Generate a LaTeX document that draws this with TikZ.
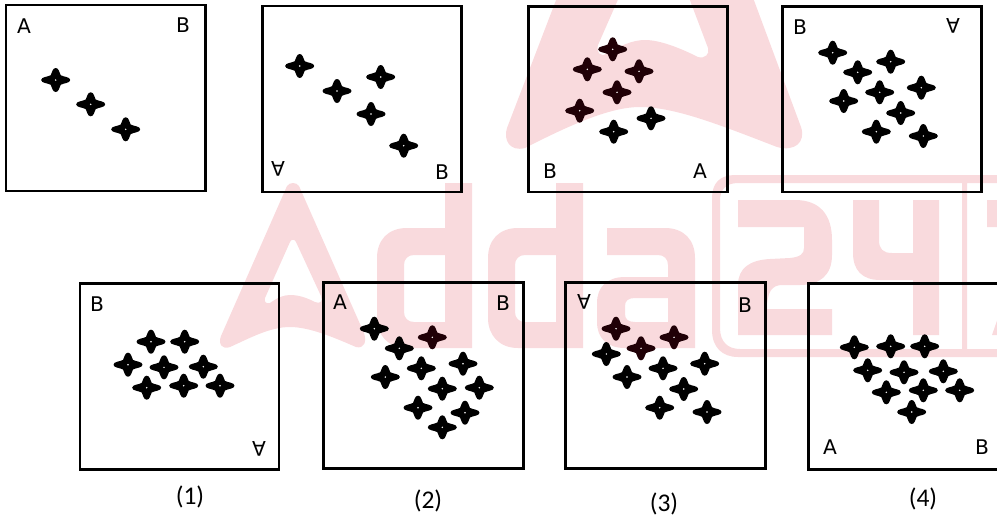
\documentclass[tikz,border=0pt]{standalone}
\usepackage{fontspec}
\setsansfont{DejaVu Sans}
\newfontfamily\capfont{Carlito}
\definecolor{wmark}{HTML}{F9DADD}
\definecolor{tinted}{HTML}{200006}
\tikzset{
    sparkle/.pic={
        \fill (14.5,0) .. controls (14.5,-3.2) and (8,-3) .. (5,-4.8) .. controls (3.5,-7.5) and (3.2,-12) .. (0,-12)
            .. controls (-3.2,-12) and (-3.5,-7.5) .. (-5,-4.8) .. controls (-8,-3) and (-14.5,-3.2) .. (-14.5,0)
            .. controls (-14.5,3.2) and (-8,3) .. (-5,4.8) .. controls (-3.5,7.5) and (-3.2,12) .. (0,12)
            .. controls (3.2,12) and (3.5,7.5) .. (5,4.8) .. controls (8,3) and (14.5,3.2) .. (14.5,0) -- cycle;
        \fill[white] (0,0) circle (0.8);
    }
}

\begin{document}
\begin{tikzpicture}[x=0.02cm, y=-0.02cm]
    \tikzstyle{every node}=[inner sep=0pt, font=\sffamily\fontsize{11.5}{13}\selectfont, text=black]
    \tikzstyle{flipped}=[transform shape, yscale=-1]
    \tikzstyle{caption}=[font=\capfont\fontsize{14.5}{16}\selectfont]
    \tikzstyle{panel}=[draw=black, line width=1.7pt]
    \tikzstyle{logo}=[fill=wmark, even odd rule]

    \useasboundingbox (0,0) rectangle (997,521);
    \clip (0,0) rectangle (997,521);

    \fill[logo] (558,-5) -- (507,128) .. controls (503,140) and (510,152) .. (525,148)
        .. controls (570,125) and (610,107) .. (640,107) .. controls (675,107) and (720,125) .. (777,147)
        .. controls (795,152) and (806,142) .. (801,127) -- (752,-5) -- cycle
        (620,-5) -- (598,45) .. controls (596,52) and (600,57) .. (606,54)
        .. controls (620,46) and (632,40) .. (645,40) .. controls (660,40) and (680,48) .. (698,57)
        .. controls (705,59) and (710,54) .. (708,48) -- (688,-5) -- cycle;
    \fill[logo] (287,186) .. controls (290,182) and (296,182) .. (299,186) -- (364,333)
        .. controls (367,342) and (364,349) .. (356,347) .. controls (335,338) and (310,327) .. (290,327)
        .. controls (270,327) and (250,338) .. (230,347) .. controls (222,350) and (218,344) .. (221,336) -- cycle
        (290,242) .. controls (291,239) and (295,239) .. (296,242) -- (321,296)
        .. controls (323,302) and (320,304) .. (315,302) .. controls (305,297) and (298,295) .. (290,295)
        .. controls (283,295) and (277,298) .. (270,303) .. controls (266,304) and (264,302) .. (265,298) -- cycle;
    \foreach \dx in {0,111}
        \fill[logo] (445+\dx,183) -- (472+\dx,183) -- (472+\dx,348) -- (407+\dx,348)
            .. controls (388+\dx,348) and (377+\dx,335) .. (377+\dx,318) -- (377+\dx,258)
            .. controls (377+\dx,240) and (388+\dx,228) .. (407+\dx,228) -- (445+\dx,228) -- cycle
            (445+\dx,255) -- (414+\dx,255) .. controls (408+\dx,255) and (404+\dx,259) .. (404+\dx,265)
            -- (404+\dx,312) .. controls (404+\dx,318) and (408+\dx,322) .. (414+\dx,322) -- (445+\dx,322) -- cycle;
    \fill[logo] (607,228) -- (665,228) .. controls (684,228) and (695,240) .. (695,258) -- (695,348) -- (625,348)
        .. controls (607,348) and (597,338) .. (597,322) -- (597,303) .. controls (597,287) and (607,277) .. (625,277)
        -- (668,277) -- (668,265) .. controls (668,259) and (664,255) .. (658,255) -- (607,255) -- cycle
        (668,298) -- (635,298) .. controls (628,298) and (625,301) .. (625,306) -- (625,314)
        .. controls (625,319) and (628,322) .. (635,322) -- (668,322) -- cycle;
    \fill[logo] (738,200) -- (795,200) .. controls (820,200) and (832,215) .. (832,240) -- (832,255)
        .. controls (832,275) and (820,285) .. (800,285) -- (782,285) .. controls (772,285) and (767,292) .. (767,309)
        -- (832,309) -- (832,335) -- (738,335) -- (738,285) .. controls (738,268) and (750,260) .. (770,259)
        -- (790,258) .. controls (800,257) and (804,254) .. (804,248) -- (804,227) -- (738,227) -- cycle;
    \fill[logo] (853,200) -- (879,200) -- (879,240) .. controls (879,249) and (883,253) .. (892,253) -- (913,253)
        -- (913,200) -- (939,200) -- (939,335) -- (913,335) -- (913,280) -- (880,280)
        .. controls (862,280) and (853,270) .. (853,253) -- cycle;
    \fill[logo] (987,200) -- (1000,200) -- (1000,227) -- (987,227) -- cycle
        (992,335) -- (1000,312) -- (1000,335) -- cycle;
    \fill[logo] (1000,175) -- (735,175) .. controls (720,175) and (712,183) .. (712,198) -- (712,330)
        .. controls (712,347) and (722,357) .. (738,357) -- (1000,357) -- (1000,349) -- (967,349) -- (967,183) -- (1000,183) -- cycle
        (962,183) -- (738,183) .. controls (726,183) and (720,190) .. (720,200) -- (720,328)
        .. controls (720,342) and (728,349) .. (740,349) -- (962,349) -- cycle;

    \draw[panel] (6,5) rectangle (205.5,191);
    \draw[panel] (262.5,6) rectangle (461.5,192);
    \draw[panel] (528.5,6.5) rectangle (727.5,192);
    \draw[panel] (782.5,6.5) rectangle (981.5,192);
    \draw[panel] (80,283.5) rectangle (279,469);
    \draw[panel] (323.5,282.5) rectangle (523,468.5);
    \draw[panel] (565.5,282.5) rectangle (765,468);
    \draw[panel] (808.5,283.5) rectangle (1010,469);

    \foreach \x/\y in {55.7/80, 90.7/104.3, 125.7/129.3,
        299.7/66, 337/91, 380.7/77, 371/114, 403.7/145.7,
        613.7/131.7, 651/118.3,
        832.7/52.7, 857.7/72.3, 890.7/61.7, 879.7/92.3, 921.3/87.7, 843.7/101, 900.7/113, 876.3/131.7, 923.3/136,
        151/341.7, 184.7/341.7, 128/364.7, 164/367.3, 203.3/366.7, 146.7/387.7, 183.7/385.7, 220/385.7,
        374.3/328.7, 399.3/348.3, 421.3/368.3, 463/363.7, 385.3/377, 442.3/388.7, 479.3/387.7, 418/407.7, 465/412.7, 442.3/427.3,
        606.3/354, 663/368.3, 704.7/363.7, 627/377, 683.7/389, 659.7/407.7, 707/412,
        854.3/347.3, 890.7/346.3, 924.7/346.3,
        867.7/370.3, 904/372.3, 943.3/371.3, 886.3/392.3, 923.3/390.3, 959.7/390.3, 911.7/412}
        \pic at (\x,\y) {sparkle};

    \foreach \x/\y in {612.7/49.3, 587.3/69.3, 639/71.3, 617/92.3, 579.7/110.7,
        432.3/337.3, 616/328.7, 641/348.3, 674/337.3}
        \pic[color=tinted] at (\x,\y) {sparkle};

    \node (a1) at (24,26) {A};
    \node (b1) at (183,25) {B};
    \node[flipped] (a2) at (278,169) {A};
    \node (b2) at (442,172) {B};
    \node (b3) at (550,171) {B};
    \node (a3) at (700,171) {A};
    \node (b4) at (800,27) {B};
    \node[flipped] (a4) at (953,26) {A};
    \node (b5) at (97,304) {B};
    \node[flipped] (a5) at (259,449) {A};
    \node (a6) at (340,302) {A};
    \node (b6) at (503,303) {B};
    \node[flipped] (a7) at (584,302) {A};
    \node (b7) at (745,305) {B};
    \node (a8) at (830,447) {A};
    \node (b8) at (982,447) {B};

    \node[caption] (c1) at (190,497) {(1)};
    \node[caption] (c2) at (428,501) {(2)};
    \node[caption] (c3) at (664,504) {(3)};
    \node[caption] (c4) at (923,499) {(4)};
\end{tikzpicture}
\end{document}
